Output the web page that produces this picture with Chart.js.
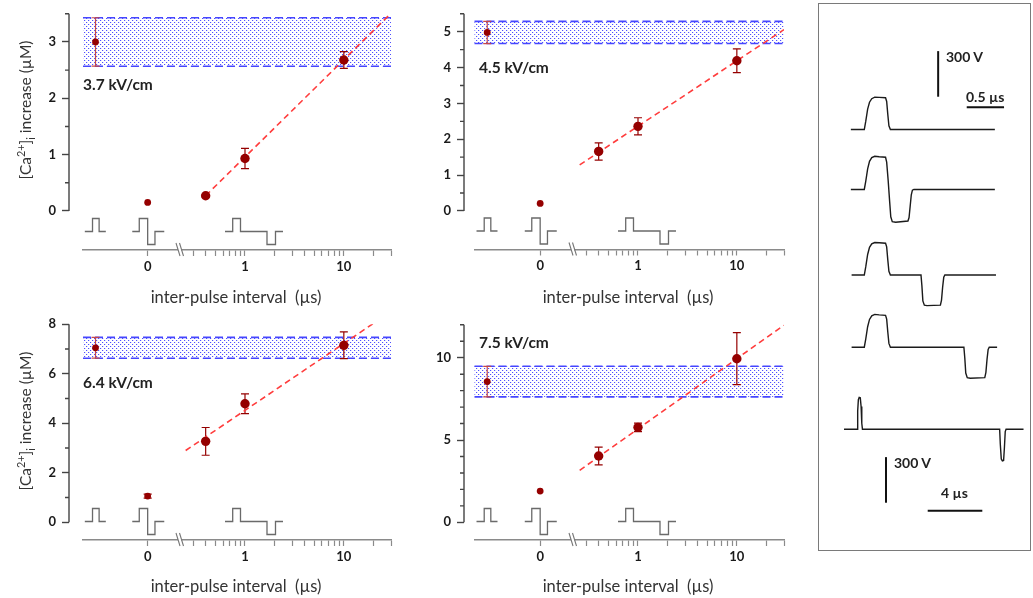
<!DOCTYPE html>
<html>
<head>
<meta charset="utf-8">
<title>Paired-pulse [Ca2+]i increase</title>
<script src="https://cdn.jsdelivr.net/npm/chart.js@4.4.1/dist/chart.umd.min.js"></script>
<style>
  html, body { margin: 0; padding: 0; background: #fff; }
  body { position: relative; width: 1033px; height: 598px; overflow: hidden; font-family: Lato, "Open Sans", sans-serif; }
  canvas { position: absolute; }
  .t { position: absolute; white-space: pre; line-height: 1; }
  .kv { font-weight: bold; font-size: 15.5px; color: #222; transform: translateY(-50%); }
  .xt { font-size: 16.5px; color: #333; transform: translate(-50%, -50%); }
  .yt { font-size: 15.5px; color: #333; transform: translate(-50%, -50%) rotate(-90deg); }
  .yt sup, .yt sub { font-size: 0.7em; line-height: 0; }
  .sb { font-weight: bold; font-size: 14px; color: #222; transform: translateY(-50%); }
  #scope { position: absolute; left: 818px; top: 3px; width: 211px; height: 546px; border: 1px solid #7a7a7a; }
  #scope canvas { left: 0; top: 0; }
</style>
</head>
<body>
<canvas id="c0" width="400" height="300" style="left:0;top:0"></canvas>
<canvas id="c1" width="400" height="300" style="left:400px;top:0"></canvas>
<canvas id="c2" width="400" height="298" style="left:0;top:300px"></canvas>
<canvas id="c3" width="400" height="298" style="left:400px;top:300px"></canvas>
<div id="scope"><canvas id="cs" width="211" height="546"></canvas></div>

<div class="t yt" style="left:26px;top:110px">[Ca<sup>2+</sup>]<sub>i</sub> increase (µM)</div>
<div class="t yt" style="left:26px;top:421px">[Ca<sup>2+</sup>]<sub>i</sub> increase (µM)</div>
<div class="t xt" style="left:236px;top:297px">inter-pulse interval  (µs)</div>
<div class="t xt" style="left:628px;top:297px">inter-pulse interval  (µs)</div>
<div class="t xt" style="left:236px;top:586px">inter-pulse interval  (µs)</div>
<div class="t xt" style="left:628px;top:586px">inter-pulse interval  (µs)</div>

<div class="t sb" style="left:946px;top:57px">300 V</div>
<div class="t sb" style="left:966px;top:97px">0.5 µs</div>
<div class="t sb" style="left:894px;top:463px">300 V</div>
<div class="t sb" style="left:941px;top:493px">4 µs</div>

<script>
Chart.defaults.font.family = 'Lato, "Open Sans", sans-serif';
Chart.defaults.animation = false;

// ---- data ----
const fields = ['3.7 kV/cm', '4.5 kV/cm', '6.4 kV/cm', '7.5 kV/cm'];

// left of the axis break: single pulse (drawn at -1) and 0 µs interval
const refConditions = ['single', '0'];
const refX = [-1, 0];
// paired pulses, interval in µs (log part of the axis)
const intervals = [0.4, 1, 10];

// [Ca2+]i increase, µM
const refMean = [[3.0, 0.15], [4.98, 0.21], [7.05, 1.06], [8.55, 1.9]];
const refErr = [[0.43, 0], [0.31, 0], [0.42, 0.08], [0.93, 0]];
const pairMean = [[0.27, 0.93, 2.68], [1.66, 2.36, 4.19], [3.27, 4.79, 7.15], [4.03, 5.77, 9.94]];
const pairErr = [[0.02, 0.18, 0.15], [0.24, 0.24, 0.33], [0.56, 0.4, 0.54], [0.54, 0.26, 1.58]];

// dashed log fits, [interval µs, µM]
const fitStart = [[0.4, 0.27], [0.257, 1.285], [0.251, 2.9], [0.257, 3.16]];
const fitEnd = [[30, 3.51], [30, 5.06], [20, 8.04], [30, 11.98]];

// axes
const yMax = [3.5, 5.5, 8, 12];
const yMin = [-0.694, -1.076, -0.715, -1.075];
const yTicks = [
  [0, 0.5, 1, 1.5, 2, 2.5, 3, 3.5],
  [0, 0.5, 1, 1.5, 2, 2.5, 3, 3.5, 4, 4.5, 5, 5.5],
  [0, 1, 2, 3, 4, 5, 6, 7, 8],
  [0, 1, 2, 3, 4, 5, 6, 7, 8, 9, 10, 11, 12]
];
const yLabelled = [[0, 1, 2, 3], [0, 1, 2, 3, 4, 5], [0, 2, 4, 6, 8], [0, 5, 10]];
const logTicks = [0.3, 0.4, 0.5, 0.6, 0.7, 0.8, 0.9, 1, 2, 3, 4, 5, 6, 7, 8, 9, 10, 20, 30];
const logLabelled = [1, 10];

// ---- panel layout (px) ----
const panelBox = [[0, 0, 300], [400, 0, 300], [0, 300, 298], [400, 300, 298]];
const yAxisW = [69, 64, 69, 64];
const gapW = [14, 10.5, 14, 10.5];
const refW = [97, 98.5, 97, 98.5];
const logW = [211, 211, 211, 211];
const padTop = [12.4, 12.3, 24.3, 24.8];
const padBottom = [20, 20.5, 28, 28];
const labelPos = [[83, 85], [479, 68], [83, 383], [479, 343]];

// little pulse-protocol sketches under the points, px relative to an anchor
const iconSingle = [[-10.7, 0], [-3, 0], [-3, -13], [3.6, -13], [3.6, 0], [10.3, 0]];
const iconZero = [[-15.4, 0], [-8.4, 0], [-8.4, -13], [0, -13], [0, 13], [7.3, 13], [7.3, 0], [16.6, 0]];
const iconDelay = [[-20, 0], [-12.3, 0], [-12.3, -13], [-4.5, -13], [-4.5, 0], [22, 0], [22, 13], [30.5, 13], [30.5, 0], [38, 0]];

const tickFont = { size: 13, weight: 'bold' };
const darkRed = '#950000';

// staggered blue dots for the single-pulse band
function dotPattern(ctx) {
  const tile = document.createElement('canvas');
  tile.width = 4; tile.height = 4;
  const g = tile.getContext('2d');
  g.fillStyle = 'rgba(70,70,255,0.95)';
  g.fillRect(0, 0, 1, 1);
  g.fillRect(2, 2, 1, 1);
  g.fillStyle = 'rgba(70,70,255,0.18)';
  g.fillRect(1, 0, 1, 1);
  g.fillRect(3, 2, 1, 1);
  return ctx.createPattern(tile, 'repeat');
}

function strokePath(ctx, pts, ox, oy) {
  ctx.beginPath();
  pts.forEach(([dx, dy], i) => i ? ctx.lineTo(ox + dx, oy + dy) : ctx.moveTo(ox + dx, oy + dy));
  ctx.stroke();
}

function decor(p) {
  return {
    id: 'decor' + p,
    beforeDatasetsDraw(chart) {
      const { ctx, scales } = chart;
      const { y, xs, xl } = scales;
      // single-pulse level: mean ± error across the full x range
      const top = y.getPixelForValue(refMean[p][0] + refErr[p][0]);
      const bot = y.getPixelForValue(refMean[p][0] - refErr[p][0]);
      ctx.save();
      ctx.fillStyle = dotPattern(ctx);
      ctx.fillRect(xs.left, top, xl.right - xs.left, bot - top);
      ctx.strokeStyle = '#4646ff';
      ctx.lineWidth = 1.6;
      ctx.setLineDash([8, 4]);
      ctx.beginPath();
      ctx.moveTo(xs.left, top); ctx.lineTo(xl.right, top);
      ctx.moveTo(xs.left, bot); ctx.lineTo(xl.right, bot);
      ctx.stroke();
      ctx.setLineDash([]);

      // error bars
      chart.data.datasets.forEach((ds, di) => {
        if (!ds.errors) return;
        const meta = chart.getDatasetMeta(di);
        meta.data.forEach((pt, i) => {
          const e = ds.errors[i];
          if (!e) return;
          const v = ds.data[i].y;
          const t = y.getPixelForValue(v + e);
          const b = y.getPixelForValue(v - e);
          ctx.strokeStyle = ds.errorColor[i];
          ctx.lineWidth = 1.2;
          ctx.beginPath();
          ctx.moveTo(pt.x, t); ctx.lineTo(pt.x, b);
          ctx.moveTo(pt.x - 4, t); ctx.lineTo(pt.x + 4, t);
          ctx.moveTo(pt.x - 4, b); ctx.lineTo(pt.x + 4, b);
          ctx.stroke();
        });
      });
      ctx.restore();
    },
    afterDraw(chart) {
      const { ctx, chartArea, scales } = chart;
      const { y, xs, xl } = scales;
      ctx.save();
      // y axis line only spans 0..max, minor ticks shorter
      const x0 = chartArea.left;
      ctx.strokeStyle = '#444';
      ctx.lineWidth = 1.4;
      ctx.beginPath();
      ctx.moveTo(x0, y.getPixelForValue(0));
      ctx.lineTo(x0, y.getPixelForValue(yMax[p]));
      yTicks[p].forEach(v => {
        if (yLabelled[p].includes(v)) return;
        const py = y.getPixelForValue(v);
        ctx.moveTo(x0 - 4, py); ctx.lineTo(x0, py);
      });
      ctx.stroke();

      // axis break between the reference part and the log part
      const bx = xs.right, by = chartArea.bottom;
      ctx.fillStyle = '#fff';
      ctx.fillRect(bx - 2, by - 1.5, 3, 3);
      ctx.strokeStyle = '#777';
      ctx.lineWidth = 1.1;
      ctx.beginPath();
      ctx.moveTo(bx - 4, by - 7); ctx.lineTo(bx, by + 6);
      ctx.moveTo(bx - 0.5, by - 7); ctx.lineTo(bx + 3.5, by + 6);
      ctx.stroke();

      // pulse protocol sketches
      const base = chartArea.bottom - 18.5;
      ctx.strokeStyle = '#6a6a6a';
      ctx.lineWidth = 1.3;
      strokePath(ctx, iconSingle, xs.getPixelForValue(refX[0]), base);
      strokePath(ctx, iconZero, xs.getPixelForValue(refX[1]), base);
      strokePath(ctx, iconDelay, xl.getPixelForValue(1), base);
      ctx.restore();
    }
  };
}

function xAxisCommon(weight) {
  return {
    position: 'bottom',
    stack: 'x',
    stackWeight: weight,
    border: { display: true, color: '#8a8a8a', width: 1.5 },
    grid: { drawOnChartArea: false, tickLength: 6, tickWidth: 1.2, tickColor: '#8a8a8a' },
    ticks: { autoSkip: false, maxRotation: 0, padding: 3, color: '#1a1a1a', font: tickFont },
    afterFit: s => { s.height = 30; }
  };
}

function makePanel(p) {
  const padRight = 400 - yAxisW[p] - gapW[p] - refW[p] - logW[p];
  const canvas = document.getElementById('c' + p);

  const lbl = document.createElement('div');
  lbl.className = 't kv';
  lbl.style.left = labelPos[p][0] + 'px';
  lbl.style.top = labelPos[p][1] + 'px';
  lbl.textContent = fields[p];
  document.body.appendChild(lbl);

  const isMajor = v => yLabelled[p].includes(v);

  new Chart(canvas, {
    type: 'scatter',
    data: {
      datasets: [
        {
          label: 'reference',
          xAxisID: 'xs', yAxisID: 'y',
          data: refConditions.map((c, i) => ({ x: refX[i], y: refMean[p][i] })),
          errors: refErr[p],
          errorColor: ['#c64848', darkRed],
          pointRadius: 3.4,
          pointBackgroundColor: darkRed,
          pointBorderWidth: 0
        },
        {
          label: 'paired pulses',
          xAxisID: 'xl', yAxisID: 'y',
          data: intervals.map((t, i) => ({ x: t, y: pairMean[p][i] })),
          errors: pairErr[p],
          errorColor: [darkRed, darkRed, darkRed],
          pointRadius: 4.7,
          pointBackgroundColor: darkRed,
          pointBorderWidth: 0
        },
        {
          label: 'fit',
          type: 'line',
          xAxisID: 'xl', yAxisID: 'y',
          data: [{ x: fitStart[p][0], y: fitStart[p][1] }, { x: fitEnd[p][0], y: fitEnd[p][1] }],
          borderColor: '#ff3d3d',
          borderWidth: 1.6,
          borderDash: [6, 4],
          pointRadius: 0,
          fill: false,
          order: 1
        }
      ]
    },
    options: {
      responsive: false,
      events: [],
      layout: { autoPadding: false, padding: { left: 0, top: padTop[p], right: padRight, bottom: padBottom[p] } },
      plugins: { legend: { display: false }, tooltip: { enabled: false } },
      scales: {
        y: {
          type: 'linear', position: 'left', min: yMin[p], max: yMax[p],
          border: { display: false },
          grid: {
            drawOnChartArea: false, tickLength: 7, tickWidth: 1.4,
            tickColor: c => (c.tick && isMajor(c.tick.value)) ? '#444' : 'rgba(0,0,0,0)'
          },
          ticks: {
            autoSkip: false, padding: 6, color: '#1a1a1a', font: tickFont,
            callback: v => isMajor(v) ? String(v) : ''
          },
          afterBuildTicks: s => { s.ticks = yTicks[p].map(v => ({ value: v })); },
          afterFit: s => { s.width = yAxisW[p]; }
        },
        xpad: Object.assign(xAxisCommon(gapW[p]), {
          type: 'linear', min: 0, max: 1,
          border: { display: false }, grid: { display: false }, ticks: { display: false }
        }),
        xs: Object.assign(xAxisCommon(refW[p]), {
          type: 'linear', min: -1.24, max: 0.62,
          afterBuildTicks: s => { s.ticks = [{ value: 0 }]; }
        }),
        xl: Object.assign(xAxisCommon(logW[p]), {
          type: 'logarithmic', min: 0.22, max: 30,
          afterBuildTicks: s => { s.ticks = logTicks.map(v => ({ value: v })); }
        })
      }
    },
    plugins: [decor(p)]
  });
  const chart = Chart.getChart(canvas);
  chart.options.scales.xs.ticks.callback = v => (v === 0 ? '0' : '');
  chart.options.scales.xl.ticks.callback = v => (logLabelled.includes(v) ? String(v) : '');
  chart.update();
}

[0, 1, 2, 3].forEach(makePanel);

// ---- oscilloscope traces: time in µs, amplitude in V ----
const traceSingle = [[-0.18, 0], [0, 0], [0.02, 55], [0.045, 135], [0.07, 180], [0.1, 203], [0.14, 213], [0.2, 212], [0.285, 209], [0.3, 185], [0.315, 100], [0.33, 25], [0.35, 0], [1.75, 0]];
const traceGap0 = [[-0.18, 0], [0, 0], [0.02, 55], [0.045, 135], [0.07, 185], [0.1, 210], [0.14, 218], [0.2, 215], [0.285, 212], [0.3, 180], [0.32, 60], [0.34, -80], [0.355, -180], [0.375, -212], [0.42, -216], [0.585, -208], [0.6, -185], [0.615, -110], [0.63, -35], [0.645, -5], [0.665, 0], [1.75, 0]];
const traceGap04 = [[-0.17, 0], [0, 0], [0.02, 55], [0.045, 135], [0.07, 182], [0.1, 205], [0.14, 214], [0.2, 212], [0.285, 209], [0.3, 185], [0.315, 100], [0.33, 25], [0.35, 0], [0.76, 0], [0.772, -70], [0.785, -170], [0.805, -198], [0.84, -201], [1.02, -198], [1.035, -165], [1.05, -80], [1.065, -15], [1.08, 0], [1.765, 0]];
const traceGap1 = [[-0.17, 0], [0, 0], [0.02, 55], [0.045, 135], [0.07, 183], [0.1, 207], [0.14, 216], [0.2, 213], [0.285, 210], [0.3, 185], [0.315, 100], [0.33, 25], [0.35, 0], [1.335, 0], [1.347, -70], [1.36, -170], [1.38, -200], [1.42, -204], [1.615, -200], [1.63, -165], [1.645, -80], [1.66, -15], [1.675, 0], [1.78, 0]];
const traceGap10 = [[-0.95, 0], [0, 0], [0.05, 120], [0.1, 195], [0.16, 210], [0.24, 207], [0.3, 150], [0.35, 40], [0.4, 0], [10.45, 0], [10.5, -100], [10.57, -195], [10.65, -208], [10.74, -205], [10.8, -120], [10.86, -15], [10.92, 0], [12.2, 0]];

const fastTraces = [traceSingle, traceGap0, traceGap04, traceGap1];
const slowTraces = [traceGap10];
// vertical placement of each trace on the screen, V
const traceBaseV = [2766, 2372, 1809, 1334, 794];

// scale bars
const barVolts = 300;
const barFastUs = 0.5;
const barSlowUs = 4;
const fastBarAt = { v: [0.99, 2982], h: [1.373, 2913] };
const slowBarAt = { v: [2.125, 311], h: [5.18, 258.6] };

const traceStyle = { borderColor: '#1b1b1b', borderWidth: 1.4, pointRadius: 0, tension: 0, fill: false, yAxisID: 'yv' };
const barStyle = { borderColor: '#111', borderWidth: 2, pointRadius: 0, fill: false, yAxisID: 'yv' };

const scopeSets = [];
fastTraces.forEach((tr, k) => scopeSets.push(Object.assign({
  xAxisID: 'xfast', data: tr.map(([t, v]) => ({ x: t, y: v + traceBaseV[k] }))
}, traceStyle)));
slowTraces.forEach((tr, k) => scopeSets.push(Object.assign({
  xAxisID: 'xslow', data: tr.map(([t, v]) => ({ x: t, y: v + traceBaseV[fastTraces.length + k] }))
}, traceStyle)));
scopeSets.push(Object.assign({ xAxisID: 'xfast', data: [
  { x: fastBarAt.v[0], y: fastBarAt.v[1] }, { x: fastBarAt.v[0], y: fastBarAt.v[1] + barVolts }] }, barStyle));
scopeSets.push(Object.assign({ xAxisID: 'xfast', data: [
  { x: fastBarAt.h[0], y: fastBarAt.h[1] }, { x: fastBarAt.h[0] + barFastUs, y: fastBarAt.h[1] }] }, barStyle));
scopeSets.push(Object.assign({ xAxisID: 'xslow', data: [
  { x: slowBarAt.v[0], y: slowBarAt.v[1] }, { x: slowBarAt.v[0], y: slowBarAt.v[1] + barVolts }] }, barStyle));
scopeSets.push(Object.assign({ xAxisID: 'xslow', data: [
  { x: slowBarAt.h[0], y: slowBarAt.h[1] }, { x: slowBarAt.h[0] + barSlowUs, y: slowBarAt.h[1] }] }, barStyle));

new Chart(document.getElementById('cs'), {
  type: 'line',
  data: { datasets: scopeSets },
  options: {
    responsive: false,
    events: [],
    layout: { autoPadding: false, padding: 0 },
    plugins: { legend: { display: false }, tooltip: { enabled: false } },
    scales: {
      xfast: { type: 'linear', axis: 'x', position: 'bottom', display: false, min: -0.607, max: 2.221 },
      xslow: { type: 'linear', axis: 'x', position: 'bottom', display: false, min: -2.784, max: 12.674 },
      yv: { type: 'linear', axis: 'y', position: 'left', display: false, min: 0, max: 3592 }
    }
  }
});
</script>
</body>
</html>
